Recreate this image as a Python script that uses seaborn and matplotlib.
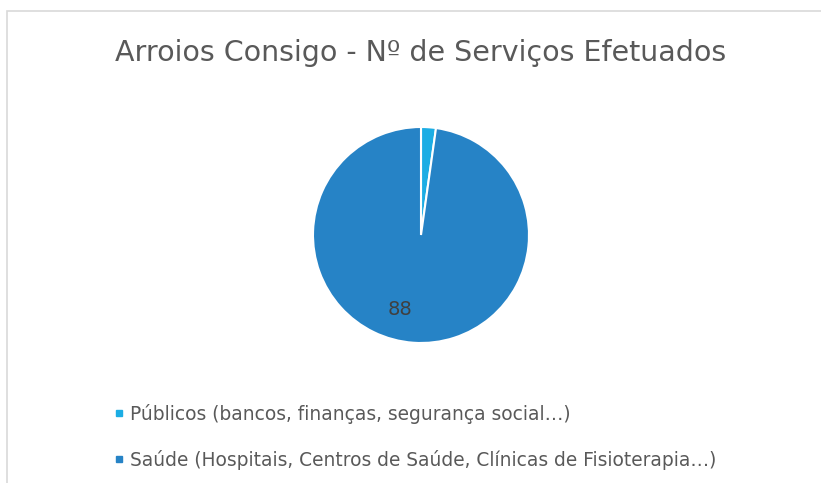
import matplotlib.pyplot as plt
import seaborn as sns
from matplotlib.lines import Line2D
from matplotlib.patches import Rectangle

# Chart data
categories = ["Públicos (bancos, finanças, segurança social…)",
              "Saúde (Hospitais, Centros de Saúde, Clínicas de Fisioterapia…)"]
values = [2, 88]
colors = ["#1CADE4", "#2683C6"]
title = "Arroios Consigo - Nº de Serviços Efetuados"

sns.set_theme(style="white")
plt.rcParams['font.family'] = ['DejaVu Sans']
text_color = "#595959"

fig = plt.figure(figsize=(8.21, 4.83), dpi=100)

# chart border (top and left visible only)
fig.patches.append(Rectangle((6.5 / 821, -0.1), 1.2, 1.1 - 11.5 / 483,
                             transform=fig.transFigure, fill=False,
                             edgecolor="#d9d9d9", linewidth=1.2))

ax = fig.add_axes([313 / 821, 140 / 483, 216 / 821, 216 / 483])


def show_value(pct):
    val = round(pct * sum(values) / 100)
    return f"{val}" if val > 10 else ""


wedges, texts, autotexts = ax.pie(values, colors=colors, startangle=90,
                                  counterclock=False, autopct=show_value,
                                  pctdistance=0.72,
                                  wedgeprops=dict(edgecolor="white", linewidth=1.5),
                                  textprops=dict(color="#404040", fontsize=14))
# Excel "best fit" label spot, a little left of the slice middle
autotexts[1].set_position((-0.19, -0.69))
ax.set_xlim(-1, 1)
ax.set_ylim(-1, 1)
ax.set_aspect("equal")

fig.text(421 / 821, 1 - 53 / 483, title, ha="center", va="center",
         fontsize=20.5, color=text_color)

# legend
handles = [Line2D([], [], marker="s", linestyle="", markersize=5, color=c)
           for c in colors]
fig.legend(handles, categories, loc="upper left",
           bbox_to_anchor=(98 / 821, 1 - 387 / 483), frameon=False,
           fontsize=13.4, labelcolor=text_color, handlelength=0.5,
           handletextpad=0.3, labelspacing=1.4)

fig.savefig("out.png", dpi=100)
